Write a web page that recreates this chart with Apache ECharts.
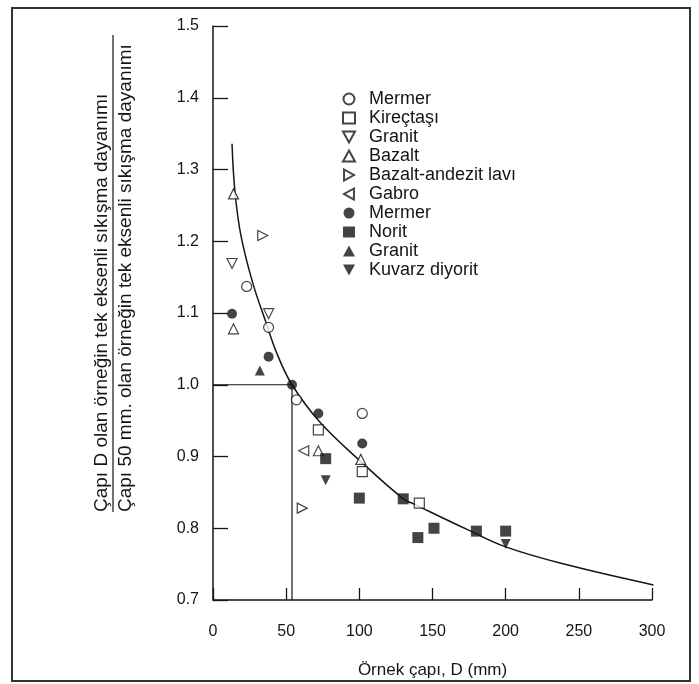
<!DOCTYPE html>
<html>
<head>
<meta charset="utf-8">
<script src="https://cdn.jsdelivr.net/npm/echarts@6/dist/echarts.min.js"></script>
<style>
  html, body { margin: 0; padding: 0; background: #fff; }
  #chart { width: 699px; height: 684px; }
</style>
</head>
<body>
<div id="chart"></div>
<script>
// readings from the figure (D in mm, strength ratio)
var mermerOpen = [[23, 1.137], [38, 1.08], [57, 0.979], [102, 0.96]];
var kirectasi = [[72, 0.937], [102, 0.879], [141, 0.835]];
var granitOpen = [[13, 1.169], [38, 1.099]];
var bazalt = [[14, 1.266], [14, 1.078], [72, 0.908], [101, 0.896]];
var bazaltAndezit = [[34, 1.208], [61, 0.828]];
var gabro = [[62, 0.908]];
var mermerFilled = [[13, 1.099], [38, 1.039], [54, 1.0], [72, 0.96], [102, 0.918]];
var norit = [[77, 0.897], [100, 0.842], [130, 0.841], [140, 0.787], [151, 0.80], [180, 0.796], [200, 0.796]];
var granitFilled = [[32, 1.02]];
var kuvarzDiyorit = [[77, 0.867], [200, 0.778]];

// fitted curve
var curveX = [13, 15, 19, 27, 36, 44, 54, 73, 101, 130, 137, 174, 200, 242, 301];
var curveY = [1.336, 1.269, 1.209, 1.143, 1.088, 1.042, 1.0, 0.948, 0.893, 0.841, 0.834, 0.798, 0.774, 0.749, 0.721];

// guide lines at D = 50 mm, ratio 1.0
var guide = [[0, 1.0], [54, 1.0], [54, 0.7]];

var xTicks = [0, 300, 50];
var yTicks = [0.7, 1.5, 0.1];

var yTitleTop = 'Çapı D olan örneğin tek eksenli sıkışma dayanımı';
var yTitleBottom = 'Çapı 50 mm. olan örneğin tek eksenli sıkışma dayanımı';
var xTitle = 'Örnek çapı, D (mm)';

var FONT = '"Liberation Sans", Arial, sans-serif';
var INK = '#151515';

// triangle glyphs as paths so the legend shows the same orientation
var TRI_UP = 'path://M5,0L10,9L0,9Z';
var TRI_DOWN = 'path://M0,0L10,0L5,9Z';
var TRI_RIGHT = 'path://M0,0L9,5L0,10Z';
var TRI_LEFT = 'path://M9,0L0,5L9,10Z';

function openMarker(name, data, symbol) {
  return {
    type: 'scatter', name: name, data: data, symbol: symbol, symbolSize: 10,
    itemStyle: { color: '#fff', borderColor: INK, borderWidth: 1.2 },
    z: 5
  };
}
function filledMarker(name, data, symbol, size) {
  return {
    type: 'scatter', name: name, data: data, symbol: symbol, symbolSize: size || 10,
    itemStyle: { color: INK },
    z: 5
  };
}

var curve = curveX.map(function (x, i) { return [x, curveY[i]]; });

var chart = echarts.init(document.getElementById('chart'));
chart.setOption({
  backgroundColor: '#fff',
  animation: false,
  textStyle: { fontFamily: FONT },
  grid: { left: 213, right: 47, top: 26, bottom: 83 },
  xAxis: {
    type: 'value', min: xTicks[0], max: xTicks[1], interval: xTicks[2],
    name: xTitle, nameLocation: 'middle', nameGap: 62,
    nameTextStyle: { fontSize: 17, color: INK, fontFamily: FONT },
    axisLine: { lineStyle: { color: INK, width: 1.5 } },
    axisTick: { inside: true, length: 12, lineStyle: { color: INK, width: 1.3 } },
    axisLabel: { fontSize: 16, color: INK, margin: 24, fontFamily: FONT },
    splitLine: { show: false }
  },
  yAxis: {
    type: 'value', min: yTicks[0], max: yTicks[1], interval: yTicks[2],
    axisLine: { show: true, lineStyle: { color: INK, width: 1.5 } },
    axisTick: { show: true, inside: true, length: 15, lineStyle: { color: INK, width: 1.3 } },
    axisLabel: {
      fontSize: 16, color: INK, margin: 14, fontFamily: FONT,
      formatter: function (v) { return v.toFixed(1); }
    },
    splitLine: { show: false }
  },
  legend: {
    orient: 'vertical', left: 342, top: 90, padding: 0,
    itemGap: 1, itemWidth: 12, itemHeight: 11,
    selectedMode: false,
    textStyle: { fontSize: 18, color: INK, lineHeight: 18, padding: [0, 0, 0, 9], fontFamily: FONT },
    formatter: function (n) { return n.trim(); },
    data: ['Mermer', 'Kireçtaşı', 'Granit', 'Bazalt', 'Bazalt-andezit lavı', 'Gabro',
           'Mermer ', 'Norit', 'Granit ', 'Kuvarz diyorit']
  },
  series: [
    {
      type: 'line', name: 'curve', data: curve, smooth: 0.4, showSymbol: false,
      lineStyle: { color: INK, width: 1.5 }, z: 3
    },
    {
      type: 'line', name: 'guide', data: guide, showSymbol: false,
      lineStyle: { color: INK, width: 1.2 }, z: 2
    },
    openMarker('Mermer', mermerOpen, 'circle'),
    openMarker('Kireçtaşı', kirectasi, 'rect'),
    openMarker('Granit', granitOpen, TRI_DOWN),
    openMarker('Bazalt', bazalt, TRI_UP),
    openMarker('Bazalt-andezit lavı', bazaltAndezit, TRI_RIGHT),
    openMarker('Gabro', gabro, TRI_LEFT),
    filledMarker('Mermer ', mermerFilled, 'circle'),
    filledMarker('Norit', norit, 'rect', 11),
    filledMarker('Granit ', granitFilled, TRI_UP),
    filledMarker('Kuvarz diyorit', kuvarzDiyorit, TRI_DOWN)
  ],
  graphic: [
    {
      type: 'rect', shape: { x: 12, y: 8, width: 678, height: 673 },
      style: { fill: 'none', stroke: '#333', lineWidth: 2 }, silent: true
    },
    {
      type: 'text', x: 102, y: 512, rotation: Math.PI / 2,
      style: { text: yTitleTop, font: '19px ' + FONT, fill: INK, align: 'left', verticalAlign: 'middle' }
    },
    {
      type: 'text', x: 126, y: 512, rotation: Math.PI / 2,
      style: { text: yTitleBottom, font: '19px ' + FONT, fill: INK, align: 'left', verticalAlign: 'middle' }
    },
    {
      type: 'line', shape: { x1: 113, y1: 35, x2: 113, y2: 512 },
      style: { stroke: INK, lineWidth: 1.2 }
    }
  ]
});
</script>
</body>
</html>
